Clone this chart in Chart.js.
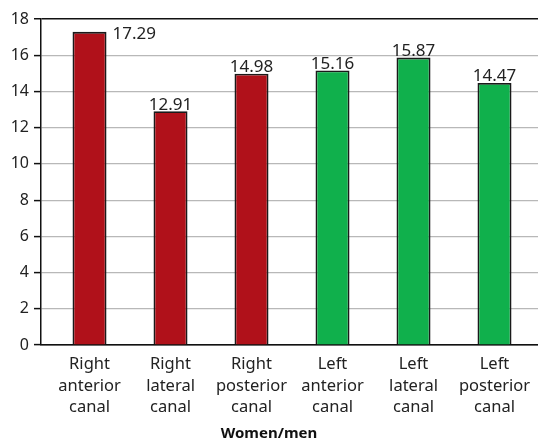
<!DOCTYPE html>
<html>
<head>
<meta charset="utf-8">
<script src="https://cdn.jsdelivr.net/npm/chart.js@4"></script>
<style>
  html, body { margin: 0; padding: 0; background: #fff; }
  #wrap { width: 538px; height: 438px; }
</style>
</head>
<body>
<div id="wrap"><canvas id="chart" width="538" height="438"></canvas></div>
<script>
const categories = [
  ['Right', 'anterior', 'canal'],
  ['Right', 'lateral', 'canal'],
  ['Right', 'posterior', 'canal'],
  ['Left', 'anterior', 'canal'],
  ['Left', 'lateral', 'canal'],
  ['Left', 'posterior', 'canal'],
];
const ratios = [17.29, 12.91, 14.98, 15.16, 15.87, 14.47];
const sides = ['right', 'right', 'right', 'left', 'left', 'left'];
const yTicks = [0, 2, 4, 6, 8, 10, 12, 14, 16, 18];
const xTitle = 'Women/men';

const FONT = '"Noto Sans", "Open Sans", sans-serif';
const sideColor = { right: '#b0111a', left: '#10b04c' };

// value labels: centred above the bar, or beside it when there is no room on top
const valueLabels = {
  id: 'valueLabels',
  afterDatasetsDraw(chart) {
    const ctx = chart.ctx;
    const meta = chart.getDatasetMeta(0);
    ctx.save();
    ctx.font = '17px ' + FONT;
    ctx.fillStyle = '#222';
    meta.data.forEach((bar, i) => {
      const txt = ratios[i].toFixed(2);
      if (bar.y - 16 < chart.chartArea.top) {
        ctx.textAlign = 'left';
        ctx.textBaseline = 'middle';
        ctx.fillText(txt, bar.x + bar.width / 2 + 6, bar.y + 2);
      } else {
        ctx.textAlign = 'center';
        ctx.textBaseline = 'alphabetic';
        ctx.fillText(txt, bar.x, bar.y - 1.5);
      }
    });
    ctx.restore();
  }
};

// axis title centred under the whole figure
const bottomTitle = {
  id: 'bottomTitle',
  afterDraw(chart) {
    const ctx = chart.ctx;
    ctx.save();
    ctx.font = 'bold 15px ' + FONT;
    ctx.fillStyle = '#111';
    ctx.textAlign = 'center';
    ctx.textBaseline = 'middle';
    ctx.fillText(xTitle, chart.width / 2, 434);
    ctx.restore();
  }
};

new Chart(document.getElementById('chart'), {
  type: 'bar',
  data: {
    datasets: [{
      data: ratios.map((v, i) => ({ x: i, y: v })),
      backgroundColor: sides.map(s => sideColor[s]),
      borderColor: '#1a1a1a',
      borderWidth: 1.8,
      borderSkipped: 'bottom',
      barPercentage: 0.42,
      categoryPercentage: 1,
    }],
  },
  options: {
    responsive: false,
    animation: false,
    layout: { padding: { top: 19, right: 0, left: 0, bottom: 0 } },
    plugins: {
      legend: { display: false },
      tooltip: { enabled: false },
    },
    scales: {
      x: {
        type: 'linear',
        offset: false,
        min: -0.599,
        max: 5.537,
        afterBuildTicks: s => { s.ticks = categories.map((_, i) => ({ value: i })); },
        afterFit: s => { s.height = 93; },
        grid: { display: false, offset: false },
        border: { color: '#111', width: 1.5 },
        ticks: {
          autoSkip: false,
          maxRotation: 0,
          padding: 1,
          color: '#222',
          font: { family: FONT, size: 16.5, lineHeight: 1.3 },
          callback: v => categories[v],
        },
      },
      y: {
        min: 0,
        max: 18,
        afterBuildTicks: s => { s.ticks = yTicks.map(v => ({ value: v })); },
        afterFit: s => { s.width = 41; },
        grid: {
          color: c => (c.tick && (c.tick.value === 18 || c.tick.value === 0)) ? '#111' : '#b8b8b8',
          lineWidth: c => (c.tick && c.tick.value === 18) ? 1.5 : 1.2,
          tickLength: 7,
          tickColor: '#111',
          tickWidth: 1.5,
        },
        border: { color: '#111', width: 1.5 },
        ticks: {
          padding: 5,
          color: '#222',
          font: { family: FONT, size: 16 },
        },
      },
    },
  },
  plugins: [valueLabels, bottomTitle],
});
</script>
</body>
</html>
